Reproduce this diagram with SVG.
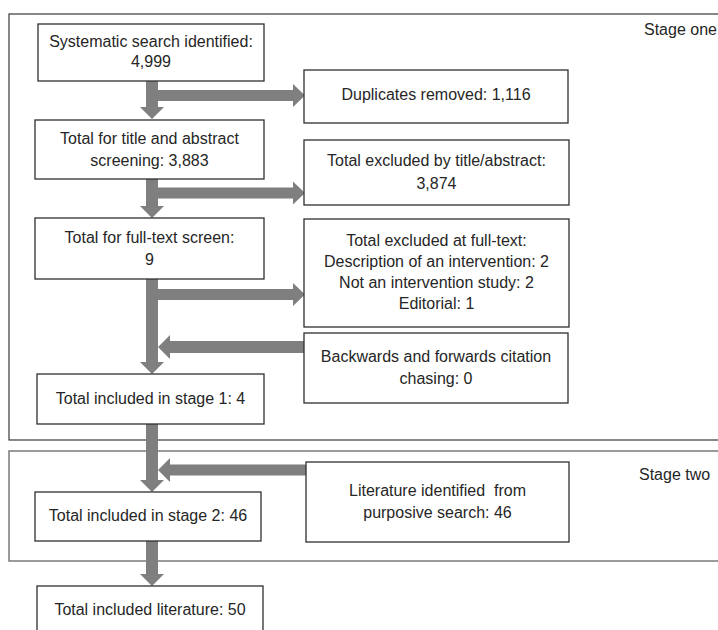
<svg xmlns="http://www.w3.org/2000/svg" width="718" height="630" viewBox="0 0 718 630">
<style>
.stage{fill:none;stroke:#3a3a3a;stroke-width:1.2}
.stage2{fill:none;stroke:#7a7a7a;stroke-width:1.5}
.box{fill:#fff;stroke:#2e2e2e;stroke-width:1.3}
.t{font-family:"Liberation Sans",Arial,sans-serif;font-size:16px;fill:#262626;text-anchor:middle}
.lbl{font-family:"Liberation Sans",Arial,sans-serif;font-size:16px;fill:#262626}
.arr{fill:#7f7f7f}
</style>
<rect width="718" height="630" fill="#fff"/>
<g id="stage-one">
<rect class="stage" x="9" y="14" width="730" height="426"/>
<text class="lbl" x="644" y="35">Stage one</text>
</g>
<g id="stage-two">
<rect class="stage2" x="9" y="451" width="730" height="110"/>
<text class="lbl" x="639" y="480">Stage two</text>
</g>
<g id="connectors">
<polygon class="arr" points="146,81 158,81 158,107 164,107 152,119 140,107 146,107"/>
<polygon class="arr" points="158,90 293,90 293,84 305,95.5 293,107 293,101 158,101"/>
<polygon class="arr" points="146,179 158,179 158,206 164,206 152,218 140,206 146,206"/>
<polygon class="arr" points="158,187.5 293,187.5 293,181.5 305,193 293,204.5 293,198.5 158,198.5"/>
<polygon class="arr" points="146,279 158,279 158,362 164,362 152,374 140,362 146,362"/>
<polygon class="arr" points="158,289 293,289 293,283 305,294.5 293,306 293,300 158,300"/>
<polygon class="arr" points="305,341 170,341 170,335 158,347 170,359 170,353 305,353"/>
<polygon class="arr" points="146,424 158,424 158,480 164,480 152,492 140,480 146,480"/>
<polygon class="arr" points="307,464.5 170,464.5 170,458 158,470 170,482 170,475.5 307,475.5"/>
<polygon class="arr" points="146,541 158,541 158,574 164,574 152,586 140,574 146,574"/>
</g>
<g id="n-systematic">
<rect class="box" x="38" y="24" width="226" height="57"/>
<text class="t" x="151" y="47">Systematic search identified:</text>
<text class="t" x="151" y="67">4,999</text>
</g>
<g id="n-duplicates">
<rect class="box" x="304" y="70" width="264" height="53"/>
<text class="t" x="436" y="100">Duplicates removed: 1,116</text>
</g>
<g id="n-title-abstract">
<rect class="box" x="35" y="120" width="229" height="59"/>
<text class="t" x="149.5" y="144">Total for title and abstract</text>
<text class="t" x="149.5" y="166">screening: 3,883</text>
</g>
<g id="n-excluded-title">
<rect class="box" x="304" y="140" width="265" height="65"/>
<text class="t" x="436.5" y="166">Total excluded by title/abstract:</text>
<text class="t" x="436.5" y="189">3,874</text>
</g>
<g id="n-fulltext">
<rect class="box" x="35" y="218" width="229" height="61"/>
<text class="t" x="149.5" y="243">Total for full-text screen:</text>
<text class="t" x="149.5" y="265">9</text>
</g>
<g id="n-excluded-fulltext">
<rect class="box" x="304" y="219" width="265" height="108"/>
<text class="t" x="436.5" y="246">Total excluded at full-text:</text>
<text class="t" x="436.5" y="267">Description of an intervention: 2</text>
<text class="t" x="436.5" y="288">Not an intervention study: 2</text>
<text class="t" x="436.5" y="309">Editorial: 1</text>
</g>
<g id="n-citation">
<rect class="box" x="304" y="333" width="264" height="70"/>
<text class="t" x="436" y="362">Backwards and forwards citation</text>
<text class="t" x="436" y="384">chasing: 0</text>
</g>
<g id="n-stage1">
<rect class="box" x="37" y="374" width="227" height="50"/>
<text class="t" x="150.5" y="404">Total included in stage 1: 4</text>
</g>
<g id="n-purposive">
<rect class="box" x="306" y="462" width="263" height="80"/>
<text class="t" x="437.5" y="496" xml:space="preserve">Literature identified  from</text>
<text class="t" x="437.5" y="518">purposive search: 46</text>
</g>
<g id="n-stage2">
<rect class="box" x="35" y="492" width="226" height="49"/>
<text class="t" x="148" y="521">Total included in stage 2: 46</text>
</g>
<g id="n-total">
<rect class="box" x="37" y="586" width="226" height="60"/>
<text class="t" x="150" y="615">Total included literature: 50</text>
</g>
</svg>
